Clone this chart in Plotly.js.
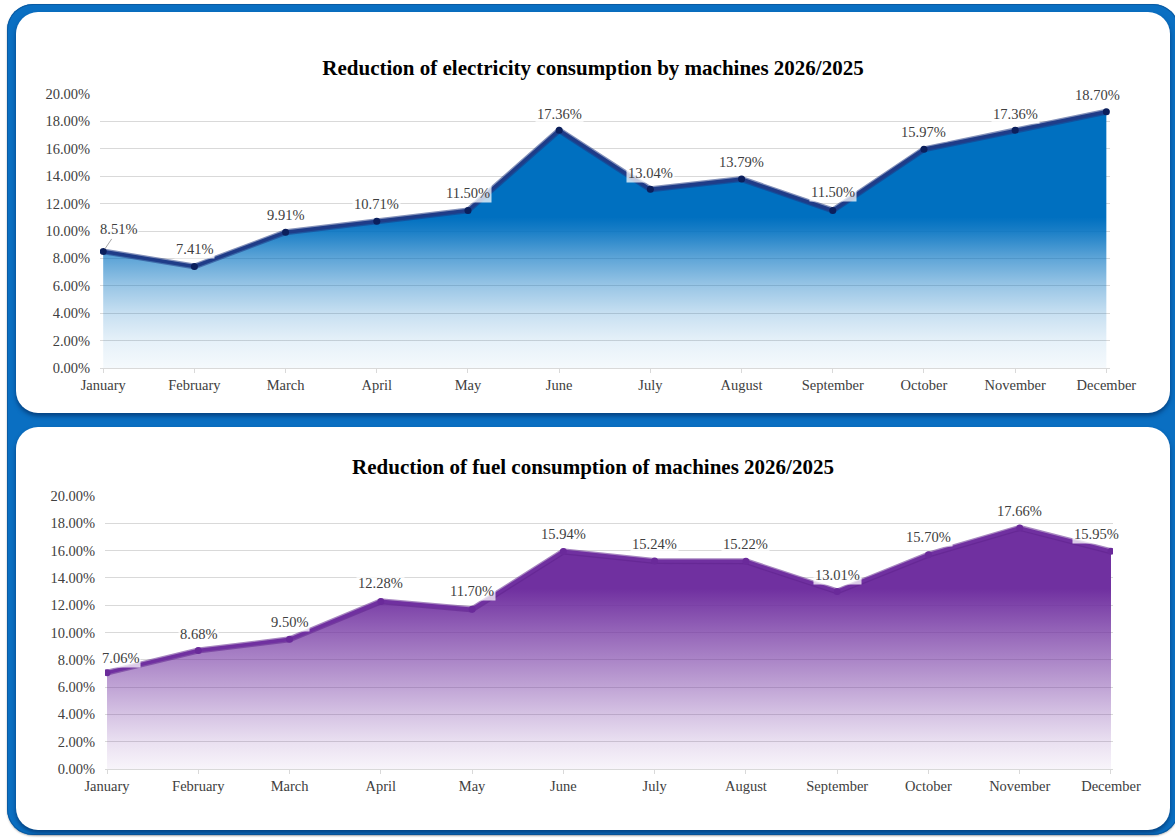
<!DOCTYPE html>
<html>
<head>
<meta charset="utf-8">
<script src="https://cdn.plot.ly/plotly-3.0.1.min.js"></script>
<style>
  html, body { margin:0; padding:0; background:#ffffff; }
  body { width:1175px; height:839px; overflow:hidden; position:relative; }
  #frame { position:absolute; left:7px; top:4px; width:1172px; height:831px; background:#0a6fc2;
           border-radius:26px; box-shadow: inset 0 0 0 1px #0a5aa2, 0 1px 2px rgba(0,0,0,0.3); }
  .panel { position:absolute; left:16px; width:1154px; background:#ffffff; border-radius:22px;
           box-shadow: 0 3px 4px rgba(0,35,85,0.6); }
  #p1 { top:12px; height:401px; }
  #p2 { top:427px; height:403px; }
  .chart { position:absolute; left:0; top:0; width:1154px; }
</style>
</head>
<body>
<div id="frame"></div>
<div class="panel" id="p1"><div class="chart" id="c1" style="height:401px"></div></div>
<div class="panel" id="p2"><div class="chart" id="c2" style="height:403px"></div></div>
<script>
// ---------------- data ----------------
const months = ['January','February','March','April','May','June','July','August','September','October','November','December'];
const electricityReduction = [8.51, 7.41, 9.91, 10.71, 11.50, 17.36, 13.04, 13.79, 11.50, 15.97, 17.36, 18.70];
const fuelReduction = [7.06, 8.68, 9.50, 12.28, 11.70, 15.94, 15.24, 15.22, 13.01, 15.70, 17.66, 15.95];
const yTickValues = [0, 2, 4, 6, 8, 10, 12, 14, 16, 18, 20];
const yTickLabels = yTickValues.map(v => v.toFixed(2) + '%');
const titleElectricity = 'Reduction of electricity consumption by machines 2026/2025';
const titleFuel = 'Reduction of fuel consumption of machines 2026/2025';

// ---------------- styling ----------------
const FONT = 'Liberation Serif, Times New Roman, serif';
const tickFont = { family: FONT, size: 14.5, color: '#404040' };

function makeChart(id, values, o) {
  const fillTrace = {
    x: months, y: values, type: 'scatter', mode: 'lines', fill: 'tozeroy',
    line: { width: 0, color: o.lineColor },
    fillgradient: { type: 'vertical', start: 0, stop: 20, colorscale: o.colorscale },
    hoverinfo: 'skip', showlegend: false
  };
  const shadowTrace = {
    x: months, y: values, type: 'scatter', mode: 'lines',
    line: { width: 6, color: o.shadow }, hoverinfo: 'skip', showlegend: false
  };
  const lineTrace = {
    x: months, y: values, type: 'scatter', mode: 'lines+markers',
    line: { width: 3.5, color: o.lineColor },
    marker: { size: 7, color: o.markerColor },
    hoverinfo: 'skip', showlegend: false
  };
  const annotations = values.map((v, i) => {
    const a = {
      x: months[i], y: v, xref: 'x', yref: 'y',
      text: v.toFixed(2) + '%',
      font: { family: FONT, size: 14.5, color: '#404040' },
      bgcolor: 'rgba(255,255,255,0.75)', borderpad: 1,
      showarrow: false, yshift: o.yshift[i], xshift: o.xshift[i]
    };
    if (o.arrowIdx === i) {
      a.showarrow = true; a.ax = o.arrow[0]; a.ay = o.arrow[1];
      a.arrowhead = 0; a.arrowwidth = 1; a.arrowcolor = '#a6a6a6'; a.standoff = 3;
      a.xshift = 0; a.yshift = 0;
    }
    return a;
  });
  const layout = {
    width: 1154, height: o.height,
    margin: { l: o.ml, r: o.mr, t: o.mt, b: o.mb },
    paper_bgcolor: 'rgba(0,0,0,0)', plot_bgcolor: 'rgba(0,0,0,0)',
    title: { text: '<b>' + o.title + '</b>', font: { family: FONT, size: 21, color: '#000000' },
             x: 0.5, xref: 'container', xanchor: 'center', y: o.titleY, yref: 'container', yanchor: 'middle' },
    xaxis: { type: 'category', range: o.xrange, showgrid: false, showline: true, linecolor: '#d9d9d9',
             linewidth: 1, ticks: 'outside', ticklen: 4, tickcolor: '#d9d9d9', tickfont: tickFont, fixedrange: true },
    yaxis: { range: [0, 20], tickvals: yTickValues, ticktext: yTickLabels, showgrid: true, gridcolor: '#d9d9d9',
             gridwidth: 1, zeroline: false, showline: false, ticks: 'outside', ticklen: 6,
             tickcolor: 'rgba(0,0,0,0)', tickfont: tickFont, fixedrange: true },
    annotations: annotations, showlegend: false
  };
  Plotly.newPlot(id, [fillTrace, shadowTrace, lineTrace], layout, { staticPlot: true, displayModeBar: false });
}

makeChart('c1', electricityReduction, {
  height: 401, ml: 84, mr: 60, mt: 82, mb: 45, xrange: [-0.035, 11.04], titleY: 1 - 56 / 401,
  title: titleElectricity,
  lineColor: '#1f3c88', markerColor: '#0b1f5c', shadow: 'rgba(30,55,130,0.55)',
  colorscale: [
    [0.00, 'rgba(0,112,192,0.04)'],
    [0.10, 'rgba(0,112,192,0.10)'],
    [0.20, 'rgba(0,112,192,0.22)'],
    [0.30, 'rgba(0,112,192,0.40)'],
    [0.40, 'rgba(0,112,192,0.63)'],
    [0.50, 'rgba(0,112,192,0.90)'],
    [0.55, 'rgba(0,112,192,1)'],
    [1.00, 'rgba(0,112,192,1)']
  ],
  yshift: [17, 17, 17, 17, 17, 16, 16, 17, 18, 17, 16, 17],
  xshift: [0, 0, 0, 0, 0, 0, 0, 0, 0, 0, 0, -9],
  arrowIdx: 0, arrow: [15, -22]
});

makeChart('c2', fuelReduction, {
  height: 403, ml: 89, mr: 57, mt: 69, mb: 61, xrange: [-0.022, 11.022], titleY: 1 - 40 / 403,
  title: titleFuel,
  lineColor: '#7030a0', markerColor: '#6a2a9a', shadow: 'rgba(95,35,140,0.55)',
  colorscale: [
    [0.00, 'rgba(112,48,160,0.05)'],
    [0.10, 'rgba(112,48,160,0.15)'],
    [0.20, 'rgba(112,48,160,0.29)'],
    [0.30, 'rgba(112,48,160,0.44)'],
    [0.40, 'rgba(112,48,160,0.59)'],
    [0.50, 'rgba(112,48,160,0.74)'],
    [0.60, 'rgba(112,48,160,0.90)'],
    [0.66, 'rgba(112,48,160,1)'],
    [1.00, 'rgba(112,48,160,1)']
  ],
  yshift: [15, 17, 17, 18, 18, 17, 17, 17, 16, 18, 17, 17],
  xshift: [13, 0, 0, 0, 0, 0, 0, 0, 0, 0, 0, -14],
  arrowIdx: -1, arrow: [0, 0]
});
</script>
</body>
</html>
